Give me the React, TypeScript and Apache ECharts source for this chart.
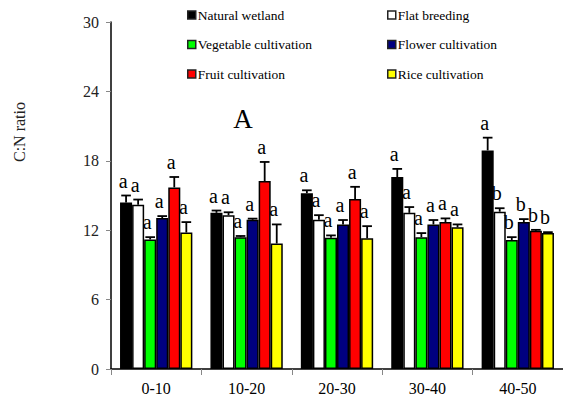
import React, { useEffect, useRef } from "react";
import * as echarts from "echarts";

const categories = ["0-10", "10-20", "20-30", "30-40", "40-50"];
const seriesNames = [
  "Natural wetland",
  "Flat breeding",
  "Vegetable cultivation",
  "Flower cultivation",
  "Fruit cultivation",
  "Rice cultivation",
];
const naturalWetland = [14.4, 13.5, 15.2, 16.6, 18.9];
const flatBreeding = [14.2, 13.3, 12.9, 13.5, 13.6];
const vegetable = [11.2, 11.4, 11.35, 11.4, 11.15];
const flower = [13.05, 12.9, 12.5, 12.5, 12.7];
const fruit = [15.7, 16.25, 14.7, 12.7, 11.95];
const rice = [11.8, 10.85, 11.3, 12.25, 11.75];

const naturalErr = [0.6, 0.2, 0.25, 0.7, 1.1];
const flatErr = [0.45, 0.25, 0.4, 0.5, 0.3];
const vegetableErr = [0.2, 0.1, 0.2, 0.35, 0.25];
const flowerErr = [0.17, 0.1, 0.38, 0.38, 0.26];
const fruitErr = [0.9, 1.65, 1.05, 0.32, 0.08];
const riceErr = [0.9, 1.65, 1.05, 0.25, 0.08];

const naturalLetters = ["a", "a", "a", "a", "a"];
const flatLetters = ["a", "a", "a", "a", "b"];
const vegetableLetters = ["a", "a", "a", "a", "b"];
const flowerLetters = ["a", "a", "a", "a", "b"];
const fruitLetters = ["a", "a", "a", "a", "b"];
const riceLetters = ["a", "a", "a", "a", "b"];

const yTicks = [0, 6, 12, 18, 24, 30];

const colors = ["#000000", "#ffffff", "#00ff00", "#000080", "#ff0000", "#ffff00"];
const values = [naturalWetland, flatBreeding, vegetable, flower, fruit, rice];
const errors = [naturalErr, flatErr, vegetableErr, flowerErr, fruitErr, riceErr];
const letters = [naturalLetters, flatLetters, vegetableLetters, flowerLetters, fruitLetters, riceLetters];

const FONT = "Liberation Serif";

export default function App() {
  const ref = useRef<HTMLDivElement>(null);
  useEffect(() => {
    if (!ref.current) return;
    const chart = echarts.init(ref.current, null, { renderer: "svg" });
    const nSeries = values.length;
    const barSeries = values.map((vals, i) => ({
      name: seriesNames[i],
      type: "bar",
      data: vals,
      barGap: "0%",
      barCategoryGap: "20%",
      itemStyle: { color: colors[i], borderColor: "#000", borderWidth: 1.5 },
      z: 2,
    }));
    const errSeries = values.map((vals, i) => ({
      name: "err-" + i,
      type: "custom",
      z: 5,
      data: vals.map((v, j) => [j, v, errors[i][j]]),
      renderItem: (params: any, api: any) => {
        const cat = api.value(0);
        const v = api.value(1);
        const e = api.value(2);
        const band = api.size([1, 0])[0];
        const barW = (band * 0.8) / nSeries;
        const base = api.coord([cat, v]);
        const top = api.coord([cat, v + e]);
        const x = base[0] + (i - (nSeries - 1) / 2) * barW;
        const capHalf = barW * 0.4;
        const letter = letters[i][params.dataIndex];
        return {
          type: "group",
          children: [
            {
              type: "line",
              shape: { x1: x, y1: base[1], x2: x, y2: top[1] },
              style: { stroke: "#000", lineWidth: 1.8 },
            },
            {
              type: "line",
              shape: { x1: x - capHalf, y1: top[1], x2: x + capHalf, y2: top[1] },
              style: { stroke: "#000", lineWidth: 1.8 },
            },
            {
              type: "text",
              x: x - 3,
              y: top[1] - 15,
              style: {
                text: letter,
                fontSize: 20,
                fontFamily: FONT,
                fill: "#000",
                align: "center",
                verticalAlign: "middle",
              },
            },
          ],
        };
      },
    }));
    const legendCommon = {
      orient: "vertical",
      itemWidth: 8,
      itemHeight: 8,
      itemGap: 15.5,
      icon: "rect",
      itemStyle: { borderColor: "#222", borderWidth: 1.5 },
      textStyle: { fontSize: 13.5, fontFamily: FONT, color: "#000", padding: [0, 0, 0, -3] },
      selectedMode: false,
      padding: 0,
    };
    chart.setOption({
      animation: false,
      backgroundColor: "#fff",
      grid: { left: 111, top: 22, bottom: 33, width: 455 },
      legend: [
        { ...legendCommon, left: 187, top: 8, data: [seriesNames[0], seriesNames[2], seriesNames[4]] },
        { ...legendCommon, left: 387, top: 8, data: [seriesNames[1], seriesNames[3], seriesNames[5]] },
      ],
      xAxis: {
        type: "category",
        data: categories,
        axisLine: { lineStyle: { color: "#000", width: 1.5 } },
        axisTick: { show: true, length: 6, lineStyle: { color: "#888" } },
        axisLabel: { color: "#000", fontSize: 16, fontFamily: FONT, margin: 11 },
      },
      yAxis: {
        type: "value",
        min: yTicks[0],
        max: yTicks[yTicks.length - 1],
        interval: yTicks[1] - yTicks[0],
        splitLine: { show: false },
        axisLine: { show: true, lineStyle: { color: "#000", width: 1.5 } },
        axisTick: { show: true, length: 5, lineStyle: { color: "#888" } },
        axisLabel: { color: "#222", fontSize: 16, fontFamily: FONT, margin: 12 },
      },
      graphic: [
        {
          type: "text",
          x: 19,
          y: 132,
          rotation: Math.PI / 2,
          style: {
            text: "C:N ratio",
            fontSize: 16,
            fontFamily: FONT,
            fill: "#222",
            align: "center",
            verticalAlign: "middle",
          },
        },
        {
          type: "text",
          x: 243,
          y: 119,
          style: {
            text: "A",
            fontSize: 27,
            fontFamily: FONT,
            fill: "#000",
            align: "center",
            verticalAlign: "middle",
          },
        },
      ],
      series: [...barSeries, ...errSeries],
    });
    return () => chart.dispose();
  }, []);
  return (
    <div
      ref={ref}
      style={{ position: "fixed", left: 0, top: 0, width: 563, height: 402 }}
    />
  );
}
